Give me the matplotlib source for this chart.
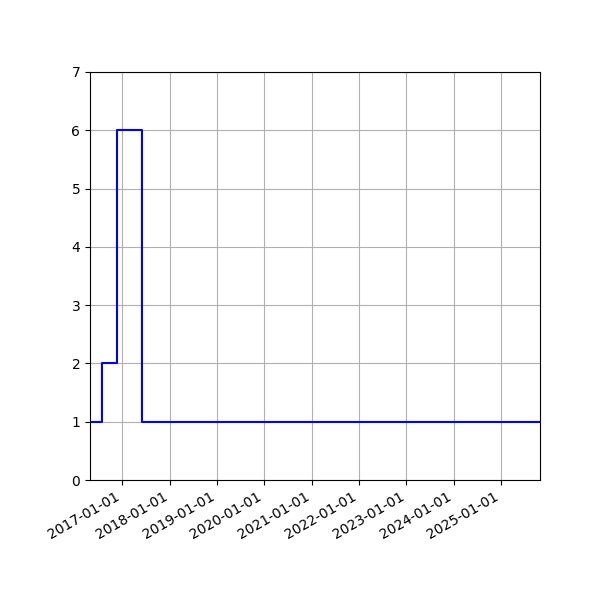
import matplotlib
matplotlib.use("Agg")
import matplotlib.pyplot as plt
import matplotlib.dates as mdates
import datetime as dt

dates = ["2016-04-28", "2016-07-31", "2016-11-19", "2017-06-04", "2025-10-27"]
values = [1, 2, 6, 1, 1]

x = [dt.datetime.strptime(d, "%Y-%m-%d") for d in dates]

fig = plt.figure(figsize=(6, 6), dpi=100)
ax = fig.add_axes([0.15, 0.2, 0.75, 0.68])
ax.step(x, values, where="post", color="blue")
ax.set_xlim(x[0], x[-1])
ax.set_ylim(0, 7)
ax.xaxis.set_major_locator(mdates.YearLocator())
ax.xaxis.set_major_formatter(mdates.DateFormatter("%Y-%m-%d"))
ax.grid(True)
for lbl in ax.get_xticklabels():
    lbl.set_rotation(30)
    lbl.set_ha("right")
fig.savefig("out.png")
